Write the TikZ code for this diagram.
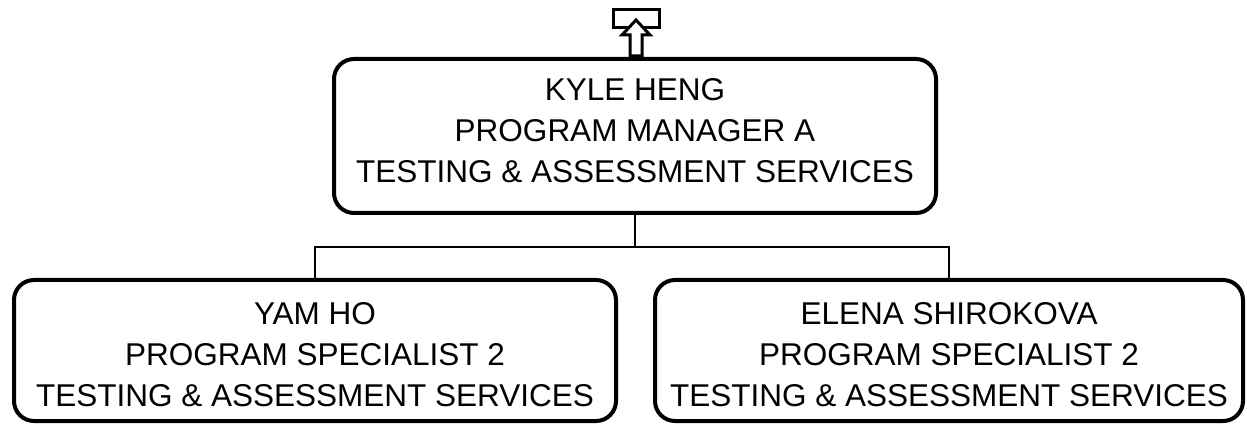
\documentclass[tikz,border=0pt]{standalone}
\usepackage{fontspec}
\setmainfont{Liberation Sans}
\usetikzlibrary{positioning}

\begin{document}
\begin{tikzpicture}[
  x=1pt, y=-1pt,
  box/.style={draw=black, fill=white, line width=4pt, rounded corners=20pt,
              inner sep=0pt, minimum height=141pt},
  person/.style={align=center, inner sep=0pt, font=\fontsize{31.5}{41}\selectfont},
  link/.style={draw=black, line width=2pt},
  icon/.style={draw=black, fill=white, line width=3pt}
]
\useasboundingbox (0,0) rectangle (1247,427);
\node[box, minimum width=602pt, minimum height=154pt] (kyle) at (635,136) {};
\node[person, yshift=5pt] (kyle-text) at (kyle)
  {KYLE HENG\\PROGRAM MANAGER A\\TESTING \& ASSESSMENT SERVICES};
\node[box, minimum width=602pt] (yam) at (315,350.5) {};
\node[person, yshift=-4pt] (yam-text) at (yam)
  {YAM HO\\PROGRAM SPECIALIST 2\\TESTING \& ASSESSMENT SERVICES};
\node[box, minimum width=588pt] (elena) at (949,350.5) {};
\node[person, yshift=-4pt] (elena-text) at (elena)
  {ELENA SHIROKOVA\\PROGRAM SPECIALIST 2\\TESTING \& ASSESSMENT SERVICES};
% reporting lines
\draw[link] (kyle.south) -- ++(0,32) coordinate (bus);
\draw[link] (yam.north) |- (bus) -| (elena.north);
% up-link icon
\node[icon, minimum width=46pt, minimum height=18pt, inner sep=0pt] (upbox) at (636,19) {};
\draw[icon, line join=miter] (636,20) -- (650,35) -- (642,35) -- (642,56)
  -- (630,56) -- (630,35) -- (622,35) -- cycle;
\end{tikzpicture}
\end{document}
